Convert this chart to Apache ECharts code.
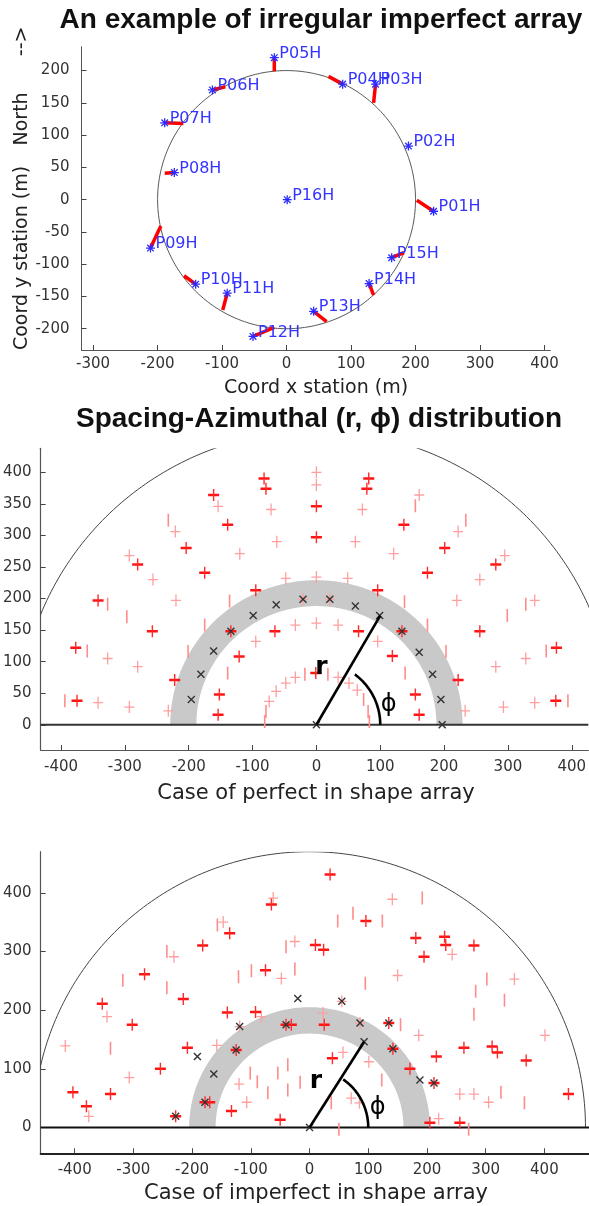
<!DOCTYPE html>
<html><head><meta charset="utf-8">
<script src="https://cdn.jsdelivr.net/npm/echarts@6/dist/echarts.min.js"></script>
<style>html,body{margin:0;padding:0;background:#fff}#c{width:589px;height:1206px}</style>
</head><body><div id="c"></div>
<script>
const FONT = 'DejaVu Sans';
const TFONT = '"Liberation Sans", Arial, sans-serif';
// ---------- tick labels ----------
const topXTicks = [-300,-200,-100,0,100,200,300,400];
const topYTicks = [-200,-150,-100,-50,0,50,100,150,200];
const midXTicks = [-400,-300,-200,-100,0,100,200,300,400];
const midYTicks = [0,50,100,150,200,250,300,350,400];
const botXTicks = [-400,-300,-200,-100,0,100,200,300,400];
const botYTicks = [0,100,200,300,400];

// ---------- top plot: stations ----------
const stationNames = ['P01H','P02H','P03H','P04H','P05H','P06H','P07H','P08H','P09H','P10H','P11H','P12H','P13H','P14H','P15H','P16H'];
const stationX = [228,189,138,87,-19,-115,-189,-174,-211,-141,-92,-52,42,128,163,1];
const stationY = [-18,83,179,179,220,170,119,42,-75,-131,-145,-212,-173,-130,-90,0];
const nominalX = [202,189,135,65,-19,-95,-160,-189,-195,-159,-99,-19,62,135,182,1];
const nominalY = [-1,83,150,191,199,175,118,41,-41,-118,-171,-198,-189,-148,-82,0];
const arrayRadius = 200;

// ---------- middle plot (perfect array) ----------
const midBold = [[-82,390],[82,390],[-79,374],[79,374],[-161,364],[0,346],[-139,317],[137,317],[-204,280],[201,280],
  [-280,254],[281,254],[-342,197],[-377,122],[376,122],[-375,38],[375,38],[0,297],[-175,241],[174,241],[-257,148],[256,148],
  [-95,213],[96,213],[-222,71],[222,71],[-65,148],[66,148],[-121,108],[119,109],[-152,48],[155,48],[-154,16],[161,16],
  [-134,148],[134,148],[-1,82]];
const midPink = [[0,400],[0,380],[161,364],[-154,346],[-221,306],[222,306],[-293,268],[295,268],[342,197],
  [-71,341],[72,341],[-256,230],[256,230],[-327,105],[328,105],[-342,35],[342,35],
  [-62,290],[61,290],[-120,271],[121,271],[-220,197],[220,197],[-280,92],[281,92],[-293,28],[293,28],
  [0,234],[-48,232],[49,232],[-232,22],[233,22],[0,161],[-33,158],[34,158],[-95,132],[96,132],
  [-74,37],[-63,53],[-48,66],[-33,75],[34,75],[51,66],[64,55],[-21,199],[21,199]];
const midBar = [[-232,324],[234,324],[-394,38],[394,38],[155,347],[-327,191],[328,191],[-359,117],[360,117],[-297,171],[299,173],
  [-136,196],[138,195],[-175,158],[174,158],[-201,116],[203,116],[-139,82],[139,82],
  [-81,5],[-79,21],[-18,80],[18,80],[74,40],[81,21],[83,5]];
const midCross = [[0,0],[197,0],[195,40],[182,80],[161,115],[134,148],[99,173],[61,188],[21,199],[-21,199],[-63,190],[-99,173],[-134,148],[-161,117],[-181,80],[-196,40]];
const midOuterRadius = 466;
const midBand = [188, 229];
const midRLine = [0, 0, 100, 173];
const midPhi = {r: 100, end: 53};
const midRText = [8, 90];
const midPhiText = [113, 32];

// ---------- bottom plot (imperfect array) ----------
const botBold = [[35,431],[-65,380],[-182,310],[-281,261],[-215,219],[-353,211],[-302,175],[-208,136],[-254,100],[-403,60],[-339,57],[-380,36],[-178,43],[-170,43],[-228,19],
  [-136,331],[10,311],[24,303],[-75,268],[-140,196],[-92,197],[-40,175],[-31,175],[25,175],[135,178],[-125,132],[142,134],[39,118],[-133,28],[-50,13],
  [181,323],[230,325],[232,311],[280,310],[195,291],[263,136],[311,138],[320,128],[216,121],[369,114],[171,100],[212,76],[205,8],[256,8],[441,57],[96,352]];
const botPink = [[-231,291],[-345,189],[-416,139],[-158,140],[-307,85],[-376,19],
  [-62,391],[141,389],[-147,350],[-25,317],[-48,254],[150,259],[55,215],[-82,189],[23,195],[-119,172],[57,128],[101,112],[-120,74],[-107,43],[71,50],[85,42],[86,178],
  [243,295],[349,253],[186,157],[401,157],[256,57],[280,57],[305,43],[220,15]];
const botBar = [[-157,345],[-243,300],[-318,251],[-243,238],[-339,135],
  [74,365],[48,352],[124,352],[-121,257],[-99,267],[-25,270],[-40,308],[95,246],[155,175],[-101,93],[-54,93],[-37,107],[-89,78],[-16,77],[-37,64],[-71,59],[37,42],[50,-3],[123,81],
  [192,391],[302,253],[283,232],[332,217],[280,193],[326,60],[366,42],[271,-3]];
const botCross = [[0,0],[-191,121],[-163,91],[-178,43],[-228,19],[-20,220],[55,215],[-119,172],[-40,175],[86,178],[135,178],[-125,132],[93,146],[142,134],[188,81],[212,76]];
const botOuterRadius = 470;
const botBand = [160, 205];
const botRLine = [0, 0, 93, 146];
const botPhi = {r: 100, end: 55};
const botRText = [11, 78];
const botPhiText = [116, 33];

// ---------- axis limits ----------
const lim = [
  {x:[-318,409], y:[-233,237]},
  {x:[-432,426], y:[-40,438]},
  {x:[-458,476], y:[-44,470]}
];

// ---------- helpers ----------
function L(x1,y1,x2,y2,c,w){return {type:'line',shape:{x1,y1,x2,y2},style:{stroke:c,lineWidth:w}};}
function markerRender(kind){
  return function(params, api){
    const p = api.coord([api.value(0), api.value(1)]); const x=p[0], y=p[1];
    let ch;
    if(kind==='plusB') ch=[L(x-5.5,y,x+5.5,y,'#ff1414',2.5),L(x,y-6,x,y+6,'#ff2a2a',1.4)];
    else if(kind==='plusP') ch=[L(x-5,y,x+5,y,'#ff9f9f',1.3),L(x,y-6,x,y+6,'#ff9f9f',1.3)];
    else if(kind==='bar') ch=[L(x,y-6.5,x,y+6.5,'#ff8c8c',1.6)];
    else if(kind==='cross') ch=[L(x-3.5,y-3.5,x+3.5,y+3.5,'#333',1.4),L(x-3.5,y+3.5,x+3.5,y-3.5,'#333',1.4)];
    else ch=[L(x-4.5,y,x+4.5,y,'#2b2bff',1.3),L(x,y-4.5,x,y+4.5,'#2b2bff',1.3),L(x-3.3,y-3.3,x+3.3,y+3.3,'#2b2bff',1.3),L(x-3.3,y+3.3,x+3.3,y-3.3,'#2b2bff',1.3)];
    return {type:'group',children:ch};
  };
}
function markers(gi, data, kind, z){
  return {type:'custom',xAxisIndex:gi,yAxisIndex:gi,data:data,renderItem:markerRender(kind),silent:true,z:z,clip:true,animation:false};
}
function circleSeries(gi, r, color, w, a0, a1, z, dash){
  return {type:'custom',xAxisIndex:gi,yAxisIndex:gi,data:[[0,0,r]],silent:true,z:z,clip:true,animation:false,
    renderItem:function(params, api){
      const R=api.value(2), pts=[];
      for(let a=a0;a<=a1+1e-9;a+=1){const t=a*Math.PI/180;pts.push(api.coord([R*Math.cos(t),R*Math.sin(t)]));}
      const st={stroke:color,lineWidth:w,fill:null};
      if(dash) st.lineDash=dash;
      return {type:'polyline',shape:{points:pts},style:st};
    }};
}
function bandSeries(gi, band, z){
  return {type:'custom',xAxisIndex:gi,yAxisIndex:gi,data:[[band[0],band[1]]],silent:true,z:z,clip:true,animation:false,
    renderItem:function(params, api){
      const r0=api.value(0), r1=api.value(1), pts=[];
      for(let a=0;a<=180;a+=1){const t=a*Math.PI/180;pts.push(api.coord([r1*Math.cos(t),r1*Math.sin(t)]));}
      for(let a=180;a>=0;a-=1){const t=a*Math.PI/180;pts.push(api.coord([r0*Math.cos(t),r0*Math.sin(t)]));}
      return {type:'polygon',shape:{points:pts},style:{fill:'#c9c9c9',stroke:null}};
    }};
}
function segSeries(gi, rows, color, w, z){
  return {type:'custom',xAxisIndex:gi,yAxisIndex:gi,data:rows,silent:true,z:z,clip:true,animation:false,
    renderItem:function(params, api){
      const a=api.coord([api.value(0),api.value(1)]), b=api.coord([api.value(2),api.value(3)]);
      return {type:'line',shape:{x1:a[0],y1:a[1],x2:b[0],y2:b[1]},style:{stroke:color,lineWidth:w,lineCap:'butt'}};
    }};
}
function textSeries(gi, pos, txt, font, z){
  return {type:'custom',xAxisIndex:gi,yAxisIndex:gi,data:[pos],silent:true,z:z,clip:false,animation:false,
    renderItem:function(params, api){
      const p=api.coord([api.value(0),api.value(1)]);
      return {type:'text',x:p[0],y:p[1],style:{text:txt,font:font,fill:'#000',textAlign:'center',align:'center',textVerticalAlign:'middle',verticalAlign:'middle'}};
    }};
}
function axis(gi, l, ticks, margin, lineColor, lineW){
  return {type:'value',gridIndex:gi,min:l[0],max:l[1],
    axisLine:{show:true,onZero:false,lineStyle:{color:lineColor,width:lineW}},
    axisTick:{show:true,inside:true,length:5,customValues:ticks,lineStyle:{color:'#444',width:1}},
    axisLabel:{customValues:ticks,fontFamily:FONT,fontSize:15,color:'#333',margin:margin},
    splitLine:{show:false}};
}

// station data rows
const stationRows = stationX.map((x,i)=>[x, stationY[i]]);
const redRows = stationX.map((x,i)=>[nominalX[i],nominalY[i],x,stationY[i]]).filter(r=>Math.hypot(r[2]-r[0],r[3]-r[1])>1);

const series = [
  // top plot
  circleSeries(0, arrayRadius, '#555', 1, 0, 360, 1),
  segSeries(0, redRows, '#ff0000', 3.5, 2),
  markers(0, stationRows, 'star', 3),
  {type:'custom',xAxisIndex:0,yAxisIndex:0,data:stationRows,silent:true,z:4,clip:false,animation:false,
    renderItem:function(params, api){
      const p=api.coord([api.value(0),api.value(1)]);
      return {type:'text',x:p[0]+5,y:p[1]-4,style:{text:stationNames[params.dataIndex],font:'16px '+FONT,fill:'#3434ff',textAlign:'left',align:'left',textVerticalAlign:'middle',verticalAlign:'middle'}};
    }},
  // middle plot
  circleSeries(1, midOuterRadius, '#444', 1, 0, 180, 1),
  bandSeries(1, midBand, 1),
  segSeries(1, [[lim[1].x[0],0,lim[1].x[1],0]], '#333', 1.8, 2),
  markers(1, midBar, 'bar', 3),
  markers(1, midPink, 'plusP', 4),
  markers(1, midBold, 'plusB', 5),
  markers(1, midCross, 'cross', 6),
  segSeries(1, [midRLine], '#000', 2.6, 7),
  circleSeries(1, midPhi.r, '#000', 2.6, 0, midPhi.end, 7),
  textSeries(1, midRText, 'r', 'bold 25px '+FONT, 8),
  textSeries(1, midPhiText, 'ϕ', '24px '+FONT, 8),
  // bottom plot
  circleSeries(2, botOuterRadius, '#444', 1, 0, 180, 1),
  bandSeries(2, botBand, 1),
  segSeries(2, [[lim[2].x[0],0,lim[2].x[1],0]], '#111', 2, 2),
  markers(2, botBar, 'bar', 3),
  markers(2, botPink, 'plusP', 4),
  markers(2, botBold, 'plusB', 5),
  markers(2, botCross, 'cross', 6),
  segSeries(2, [botRLine], '#000', 2.6, 7),
  circleSeries(2, botPhi.r, '#000', 2.6, 0, botPhi.end, 7),
  textSeries(2, botRText, 'r', 'bold 25px '+FONT, 8),
  textSeries(2, botPhiText, 'ϕ', '24px '+FONT, 8)
];

const chart = echarts.init(document.getElementById('c'), null, {renderer:'canvas'});
chart.setOption({
  backgroundColor:'#fff',
  animation:false,
  grid:[
    {left:81.5, top:46.7, width:468.8, height:303.3},
    {left:38.3, top:448.3, width:550.7, height:301.7},
    {left:38.3, top:851.7, width:550.7, height:301.6}
  ],
  xAxis:[
    axis(0, lim[0].x, topXTicks, 7, '#555', 1),
    axis(1, lim[1].x, midXTicks, 10, '#555', 1.2),
    axis(2, lim[2].x, botXTicks, 9, '#222', 2)
  ],
  yAxis:[
    axis(0, lim[0].y, topYTicks, 12, '#555', 1),
    axis(1, lim[1].y, midYTicks, 9, '#555', 1.2),
    axis(2, lim[2].y, botYTicks, 9, '#555', 1.2)
  ],
  graphic:[
    {type:'text',x:321,y:20,style:{text:'An example of irregular imperfect array',font:'bold 28px '+TFONT,fill:'#111',textAlign:'center',align:'center',textVerticalAlign:'middle',verticalAlign:'middle'}},
    {type:'text',x:319,y:419,style:{text:'Spacing-Azimuthal (r, ϕ) distribution',font:'bold 28px '+TFONT,fill:'#111',textAlign:'center',align:'center',textVerticalAlign:'middle',verticalAlign:'middle'}},
    {type:'text',x:316,y:388,style:{text:'Coord x station (m)',font:'19px '+FONT,fill:'#222',textAlign:'center',align:'center',textVerticalAlign:'middle',verticalAlign:'middle'}},
    {type:'text',x:22,y:258,rotation:Math.PI/2,style:{text:'Coord y station (m)',font:'19px '+FONT,fill:'#222',textAlign:'center',align:'center',textVerticalAlign:'middle',verticalAlign:'middle'}},
    {type:'text',x:22,y:86,rotation:Math.PI/2,style:{text:'North      -->',font:'19px '+FONT,fill:'#222',textAlign:'center',align:'center',textVerticalAlign:'middle',verticalAlign:'middle'}},
    {type:'text',x:316,y:794,style:{text:'Case of perfect in shape array',font:'21px '+FONT,fill:'#222',textAlign:'center',align:'center',textVerticalAlign:'middle',verticalAlign:'middle'}},
    {type:'text',x:316,y:1194,style:{text:'Case of imperfect in shape array',font:'21px '+FONT,fill:'#222',textAlign:'center',align:'center',textVerticalAlign:'middle',verticalAlign:'middle'}}
  ],
  series: series
});
</script></body></html>
